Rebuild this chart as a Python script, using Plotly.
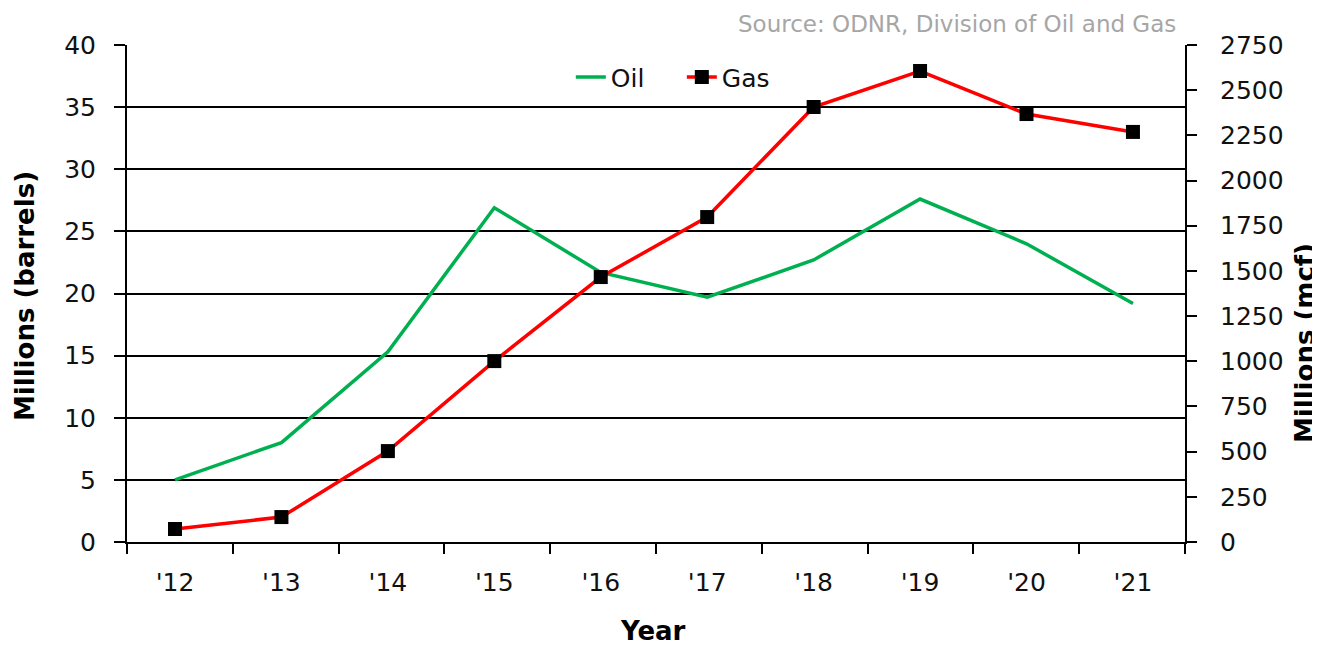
import plotly.graph_objects as go

years = ["'12", "'13", "'14", "'15", "'16", "'17", "'18", "'19", "'20", "'21"]
oil = [5.0, 8.0, 15.3, 26.9, 21.7, 19.7, 22.7, 27.6, 24.0, 19.2]
gas = [72, 138, 503, 1001, 1466, 1798, 2407, 2606, 2368, 2269]

FONT = "DejaVu Sans"
n = len(years)
xs = list(range(n))
r0, r1 = -0.451, n - 0.511
bounds = [r0 + k * (r1 - r0) / n for k in range(n + 1)]

fig = go.Figure()
fig.add_trace(go.Scatter(x=xs, y=oil, name="Oil", mode="lines",
                         line=dict(color="#00B050", width=3.5), yaxis="y"))
fig.add_trace(go.Scatter(x=xs, y=gas, name="Gas", mode="lines+markers",
                         line=dict(color="#FF0000", width=3.5),
                         marker=dict(symbol="square", size=14, color="black"),
                         yaxis="y2"))

fig.update_layout(
    width=1312, height=646,
    margin=dict(l=119, r=135, t=37, b=112),
    plot_bgcolor="white", paper_bgcolor="white",
    font=dict(family=FONT, size=25, color="#111111"),
    showlegend=True,
    legend=dict(orientation="h", x=0.4195, y=0.935, xanchor="left", yanchor="middle",
                bgcolor="rgba(0,0,0,0)", font=dict(size=25), entrywidth=66),
    xaxis=dict(range=[r0, r1], tickmode="array", tickvals=xs, ticktext=years,
               ticks="", showgrid=False, zeroline=False,
               showline=True, linecolor="black", linewidth=2,
               ticklabelstandoff=17,
               minor=dict(tickmode="array", tickvals=bounds, ticks="outside",
                          ticklen=10, tickwidth=2, tickcolor="black", showgrid=False)),
    yaxis=dict(range=[0, 40], dtick=5, tick0=0, showgrid=True, gridcolor="black",
               gridwidth=2, zeroline=False, showline=True, linecolor="black",
               linewidth=2, ticks="outside", ticklen=11, tickwidth=2,
               tickcolor="black", ticklabelstandoff=13),
    yaxis2=dict(range=[0, 2750], dtick=250, tick0=0, overlaying="y", side="right",
                anchor="x", showgrid=False, zeroline=False, showline=True,
                linecolor="black", linewidth=2, ticks="outside", ticklen=10,
                tickwidth=2, tickcolor="black", ticklabelstandoff=18),
    yaxis3=dict(range=[0, 2750], dtick=250, tick0=0, overlaying="y", side="right",
                anchor="x", showgrid=False, zeroline=False, showline=False,
                ticks="inside", ticklen=11, tickwidth=2, tickcolor="black",
                showticklabels=False),
)

fig.add_annotation(text="<b>Millions (barrels)</b>", xref="paper", yref="paper",
                   x=(25 - 127) / 1058, y=(542 - 296) / 497, xanchor="center", yanchor="middle",
                   textangle=-90, showarrow=False, font=dict(family=FONT, size=26, color="black"))
fig.add_annotation(text="<b>Millions (mcf)</b>", xref="paper", yref="paper",
                   x=(1305 - 127) / 1058, y=(542 - 343) / 497, xanchor="center", yanchor="middle",
                   textangle=-90, showarrow=False, font=dict(family=FONT, size=26, color="black"))
fig.add_annotation(text="<b>Year</b>", xref="paper", yref="paper",
                   x=(653 - 127) / 1058, y=(542 - 631) / 497, xanchor="center", yanchor="middle",
                   showarrow=False, font=dict(family=FONT, size=26, color="black"))
fig.add_annotation(text="Source: ODNR, Division of Oil and Gas", xref="paper", yref="paper",
                   x=(1178 - 127) / 1058, y=(542 - 24) / 497, xanchor="right", yanchor="middle",
                   showarrow=False, font=dict(family=FONT, size=23, color="#A6A6A6"))

fig.write_html("out.html")
